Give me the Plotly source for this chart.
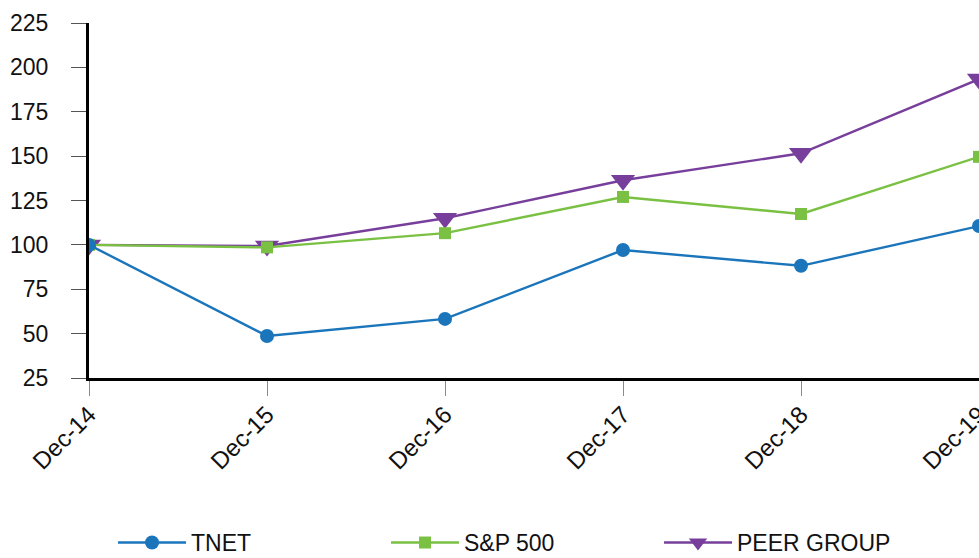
import plotly.graph_objects as go

categories = ["Dec-14", "Dec-15", "Dec-16", "Dec-17", "Dec-18", "Dec-19"]
tnet = [100, 48.7, 58.3, 97.1, 88.2, 110.6]
sp500 = [100, 98.6, 106.6, 127.0, 117.4, 149.6]
peer = [100, 99.4, 115.0, 136.4, 151.6, 193.4]
y_ticks = [25, 50, 75, 100, 125, 150, 175, 200, 225]

BLUE = "#1b75bb"
GREEN = "#7ac143"
PURPLE = "#773f9b"

fig = go.Figure()
fig.add_trace(go.Scatter(
    x=categories, y=peer, name="PEER GROUP", mode="lines+markers",
    line=dict(color=PURPLE, width=2.4),
    marker=dict(symbol="triangle-down", size=21, color=PURPLE),
    legendrank=3,
))
fig.add_trace(go.Scatter(
    x=categories, y=sp500, name="S&P 500", mode="lines+markers",
    line=dict(color=GREEN, width=2.4),
    marker=dict(symbol="square", size=12, color=GREEN),
    legendrank=2,
))
fig.add_trace(go.Scatter(
    x=categories, y=tnet, name="TNET", mode="lines+markers",
    line=dict(color=BLUE, width=2.4),
    marker=dict(symbol="circle", size=14, color=BLUE),
    legendrank=1,
))

fig.update_layout(
    width=979, height=558,
    margin=dict(l=89, r=0, t=23, b=180, autoexpand=False),
    paper_bgcolor="white", plot_bgcolor="white",
    font=dict(family="Liberation Sans, Arial, sans-serif", size=22, color="#111111"),
    showlegend=True,
    legend=dict(
        orientation="h", x=0.027, xanchor="left", y=-0.403, yanchor="top",
        itemwidth=68, entrywidth=190, entrywidthmode="pixels",
        font=dict(size=23, color="#111111"),
        bgcolor="rgba(0,0,0,0)",
    ),
    xaxis=dict(
        type="category", range=[0, 5], automargin=False,
        showgrid=False, zeroline=False,
        showline=True, linecolor="black", linewidth=3,
        ticks="outside", ticklen=15, tickcolor="#8a8a8a", tickwidth=1,
        tickangle=-45, tickfont=dict(size=24), ticklabelstandoff=-5,
    ),
    yaxis=dict(
        range=[25, 225], tickvals=y_ticks, automargin=False,
        showgrid=False, zeroline=False,
        showline=True, linecolor="black", linewidth=3,
        ticks="outside", ticklen=15, tickcolor="#555555", tickwidth=1,
        tickfont=dict(size=23), ticklabelstandoff=18,
    ),
)

fig.write_html("out.html")
